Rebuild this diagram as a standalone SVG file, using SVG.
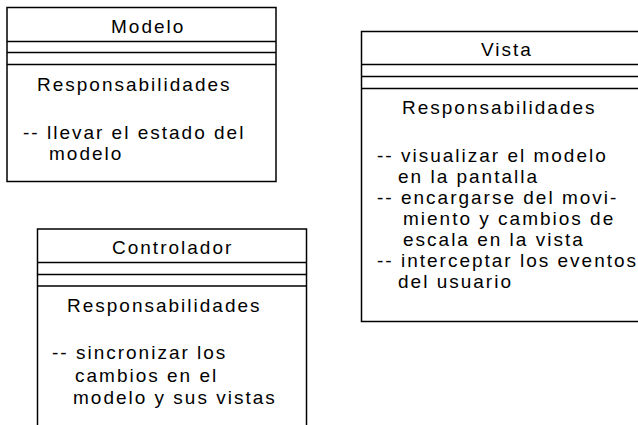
<svg xmlns="http://www.w3.org/2000/svg" width="638" height="425" viewBox="0 0 638 425">
<style>
.box{fill:#fff;stroke:#000;stroke-width:1.5}
.ln{stroke:#000;stroke-width:1.5}
text{font-family:"Liberation Sans",Arial,sans-serif;font-size:19px;letter-spacing:2px;fill:#000}
</style>
<rect width="638" height="425" fill="#fff"/>
<g id="modelo">
<rect class="box" x="7" y="7.5" width="269" height="174"/>
<line class="ln" x1="7" y1="41.5" x2="276" y2="41.5"/>
<line class="ln" x1="7" y1="52.5" x2="276" y2="52.5"/>
<line class="ln" x1="7" y1="64.5" x2="276" y2="64.5"/>
<text x="111" y="32.5">Modelo</text>
<text x="37" y="90.5">Responsabilidades</text>
<text x="23" y="138.5">-- llevar el estado del</text>
<text x="49" y="160">modelo</text>
</g>
<g id="vista">
<rect class="box" x="361.5" y="31.5" width="290" height="290"/>
<line class="ln" x1="361.5" y1="64.5" x2="640" y2="64.5"/>
<line class="ln" x1="361.5" y1="76.5" x2="640" y2="76.5"/>
<line class="ln" x1="361.5" y1="88.5" x2="640" y2="88.5"/>
<text x="481" y="55.5">Vista</text>
<text x="402" y="114">Responsabilidades</text>
<text x="377" y="161.5">-- visualizar el modelo</text>
<text x="398" y="182.5">en la pantalla</text>
<text x="377" y="203.5">-- encargarse del movi-</text>
<text x="403" y="224.5">miento y cambios de</text>
<text x="403" y="245.5">escala en la vista</text>
<text x="377" y="266.5">-- interceptar los eventos</text>
<text x="398" y="287.5">del usuario</text>
</g>
<g id="controlador">
<rect class="box" x="37.5" y="229" width="269" height="220"/>
<line class="ln" x1="37.5" y1="262.5" x2="306.5" y2="262.5"/>
<line class="ln" x1="37.5" y1="274.5" x2="306.5" y2="274.5"/>
<line class="ln" x1="37.5" y1="286" x2="306.5" y2="286"/>
<text x="112" y="253.5">Controlador</text>
<text x="67" y="312">Responsabilidades</text>
<text x="52" y="359">-- sincronizar los</text>
<text x="75" y="382">cambios en el</text>
<text x="73" y="404">modelo y sus vistas</text>
</g>
<g id="connectors"></g>
</svg>
